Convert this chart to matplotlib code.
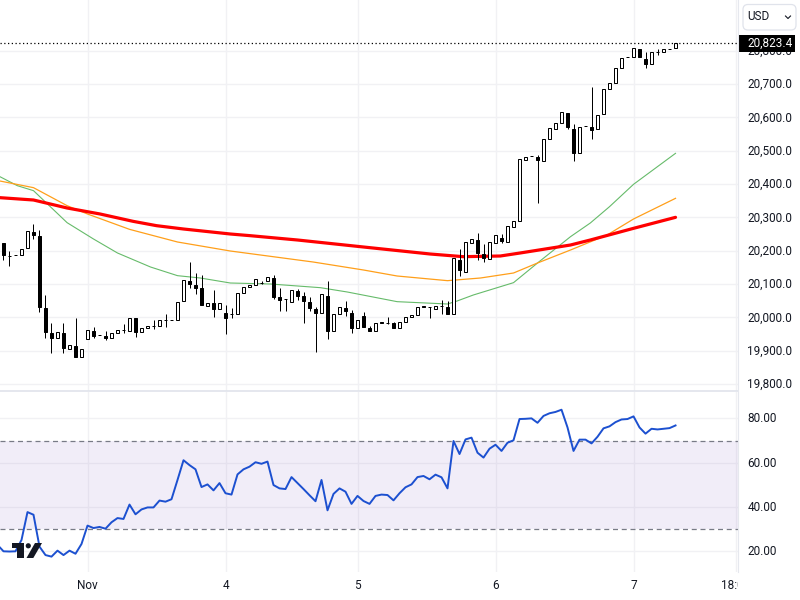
import matplotlib
matplotlib.use('Agg')
import matplotlib.pyplot as plt
from matplotlib.patches import Circle, FancyBboxPatch, Polygon, Rectangle
from matplotlib.transforms import Bbox, ScaledTranslation

plt.rcParams['font.family'] = ['Roboto', 'DejaVu Sans']

# hourly candles, bar index = position in the list
opens = [20222, 20185, 20186, 20186, 20207, 20256, 20244, 20027, 19952, 19937, 19952, 19904, 19914, 19880, 19934,
         19958, 19946, 19943, 19937, 19952, 19961, 19958, 19997, 19955, 19967, 19973, 19973, 19991, 19991, 19991,
         20048, 20109, 20097, 20087, 20035, 20042, 20024, 20013, 20010, 20009, 20072, 20092, 20098, 20102, 20110,
         20118, 20061, 20054, 20047, 20079, 20064, 20045, 20025, 20012, 20064, 19958, 20009, 20028, 20013, 19967,
         20003, 19968, 19958, 19985, 19982, 19982, 19967, 19985, 20000, 20008, 20033, 20030, 20026, 20033, 20030,
         20009, 20172, 20137, 20224, 20232, 20190, 20176, 20224, 20238, 20227, 20272, 20288, 20473, 20483, 20481,
         20470, 20534, 20566, 20582, 20612, 20564, 20492, 20574, 20571, 20564, 20609, 20684, 20702, 20747, 20780,
         20780, 20805, 20775, 20759, 20797, 20795, 20806, 20807]
highs = [20222, 20198, 20186, 20204, 20258, 20280, 20262, 20067, 19982, 19955, 19982, 19916, 19997, 19906, 19961,
         19970, 19946, 19958, 19952, 19963, 19979, 19997, 19997, 19967, 19973, 19991, 19991, 20009, 19991, 20045,
         20111, 20166, 20133, 20127, 20044, 20082, 20044, 20037, 20027, 20072, 20092, 20098, 20114, 20110, 20120,
         20127, 20088, 20056, 20081, 20085, 20077, 20061, 20032, 20069, 20109, 20009, 20030, 20049, 20022, 19991,
         20015, 19973, 19982, 19985, 20001, 19987, 19985, 20000, 20008, 20030, 20033, 20030, 20035, 20052, 20049,
         20177, 20204, 20225, 20234, 20252, 20220, 20225, 20246, 20250, 20273, 20288, 20474, 20480, 20483, 20487,
         20534, 20567, 20584, 20615, 20612, 20580, 20570, 20574, 20690, 20608, 20684, 20702, 20747, 20777, 20780,
         20807, 20805, 20797, 20797, 20804, 20804, 20806, 20823.4]
lows = [20172, 20155, 20186, 20186, 20207, 20234, 20017, 19939, 19894, 19937, 19894, 19904, 19882, 19880, 19934,
        19938, 19946, 19933, 19937, 19952, 19954, 19958, 19942, 19955, 19967, 19966, 19973, 19972, 19991, 19991,
        20048, 20089, 20071, 20038, 20035, 20002, 20024, 19951, 19999, 20009, 20072, 20092, 20098, 20100, 20110,
        20055, 20019, 20019, 20047, 20052, 19984, 20020, 19897, 20012, 19936, 19958, 20009, 20004, 19953, 19967,
        19970, 19960, 19958, 19982, 19979, 19969, 19967, 19985, 20000, 20008, 20030, 19999, 20026, 20010, 20011,
        20009, 20125, 20137, 20224, 20172, 20166, 20176, 20224, 20222, 20227, 20272, 20288, 20473, 20483, 20344,
        20470, 20534, 20566, 20582, 20565, 20470, 20492, 20574, 20534, 20564, 20609, 20684, 20702, 20747, 20780,
        20780, 20780, 20749, 20759, 20786, 20795, 20806, 20807]
closes = [20188, 20185, 20186, 20204, 20258, 20248, 20032, 19957, 19939, 19955, 19907, 19916, 19882, 19906, 19961,
          19944, 19946, 19939, 19952, 19963, 19961, 19997, 19957, 19967, 19973, 19973, 19991, 19991, 19991, 20045,
          20111, 20101, 20089, 20038, 20044, 20026, 20044, 19999, 20010, 20072, 20092, 20098, 20114, 20102, 20120,
          20060, 20052, 20054, 20081, 20064, 20049, 20028, 20013, 20069, 19960, 20009, 20030, 20019, 19968, 19991,
          19972, 19960, 19982, 19982, 19982, 19969, 19985, 20000, 20008, 20030, 20030, 20030, 20035, 20033, 20011,
          20177, 20142, 20225, 20234, 20194, 20178, 20225, 20246, 20230, 20273, 20288, 20474, 20480, 20483, 20472,
          20534, 20567, 20584, 20615, 20572, 20494, 20570, 20574, 20563, 20608, 20684, 20702, 20747, 20777, 20780,
          20807, 20780, 20760, 20797, 20797, 20804, 20806, 20823.4]

# moving averages, read at the bends only
red_bars = [-0.6, 5, 10.6, 16.1, 21.6, 25.5, 30, 37.8, 41.1, 49, 60, 71.1, 76.6, 82.8, 86.1, 94.5, 97.8, 105, 112]
red_vals = [20359, 20352, 20328, 20310, 20288, 20275, 20265, 20250, 20245, 20232, 20211, 20190, 20182, 20184, 20193,
            20217, 20232, 20267, 20300]
orange_bars = [-0.6, 5, 10.6, 14, 21, 29, 37.8, 51.6, 60, 65.6, 74, 79.5, 85, 89, 94.5, 100.6, 105, 112]
orange_vals = [20409, 20389, 20335, 20310, 20264, 20226, 20199, 20166, 20142, 20124, 20110, 20118, 20133, 20163, 20202,
               20247, 20295, 20357]
green_bars = [-0.6, 2.3, 5, 7.8, 10.6, 15, 19, 24.5, 29, 32.8, 37.8, 44.5, 52.8, 57.3, 65.6, 74, 75.6, 78.3, 85, 89,
              94.5, 97.8, 101, 105, 112]
green_vals = [20422, 20395, 20380, 20332, 20284, 20235, 20193, 20151, 20125, 20118, 20103, 20100, 20089, 20076, 20047,
              20040, 20049, 20067, 20104, 20163, 20242, 20283, 20332, 20399, 20492]

# rsi starts one bar before the first visible candle
rsi_bars = list(range(-1, 113))
rsi_vals = [22.9, 20.0, 19.9, 20.0, 25.1, 37.7, 36.5, 22.1, 18.3, 17.6, 20.3, 18.3, 20.3, 18.9, 23.3, 31.6, 30.5, 31.0,
            30.2, 33.1, 35.0, 34.6, 41.1, 36.7, 38.9, 39.8, 39.8, 42.9, 42.4, 43.5, 52.2, 61.1, 58.9, 57.0, 49.0, 50.2,
            47.5, 50.8, 46.2, 45.6, 54.7, 57.0, 58.2, 60.2, 59.5, 60.5, 49.9, 48.4, 48.1, 53.5, 50.8, 48.1, 45.3, 42.6,
            52.2, 38.5, 45.9, 48.4, 46.9, 41.4, 45.0, 42.7, 41.4, 45.0, 45.6, 45.4, 43.0, 46.2, 48.9, 50.2, 53.5, 54.0,
            52.5, 54.6, 53.4, 48.4, 69.8, 63.9, 70.5, 71.3, 64.5, 62.3, 66.3, 68.1, 65.3, 69.0, 70.1, 79.7, 79.8, 80.0,
            78.0, 81.1, 82.3, 82.9, 83.9, 75.9, 65.3, 70.4, 70.4, 68.7, 71.7, 75.5, 76.4, 78.3, 79.5, 79.7, 80.9, 75.9,
            73.1, 75.3, 75.0, 75.3, 75.6, 76.8]

price_ticks = [19800, 19900, 20000, 20100, 20200, 20300, 20400, 20500, 20600, 20700, 20800]
rsi_ticks = [20, 40, 60, 80]
time_ticks = [14, 37, 59, 82, 105, 122]
time_labels = ['Nov', '4', '5', '6', '7', '18:00']
last_price = 20823.4

GRID = '#f1f1f4'
TEXT = '#131722'
W, H = 800, 600
FS = 8.5


def pane(top, bottom):
    return [0, 1 - bottom / H, 737.5 / W, (bottom - top) / H]


fig = plt.figure(figsize=(8, 6), dpi=100, facecolor='white')
ax = fig.add_axes(pane(0, 391))
ax2 = fig.add_axes(pane(392, 572))
xlim = (-0.583, 122.33)

for a in (ax, ax2):
    a.set_xlim(xlim)
    a.set_xticks(time_ticks)
    a.grid(True, color=GRID, lw=1)
    a.set_axisbelow(True)
    a.yaxis.tick_right()
    a.tick_params(length=0, labelsize=FS, labelcolor=TEXT, pad=7)
    for s in a.spines.values():
        s.set_visible(False)

# price pane
ax.set_ylim(19779, 20952)
ax.set_yticks(price_ticks)
ax.set_yticklabels([f'{p:,.1f}' for p in price_ticks])
ax.tick_params(axis='x', labelbottom=False)

ax.plot(green_bars, green_vals, color='#66bb6a', lw=0.8, zorder=2)
ax.plot(orange_bars, orange_vals, color='#ff9f1a', lw=0.9, zorder=2.1)
ax.plot(red_bars, red_vals, color='#ff0000', lw=2.3, zorder=2.2, solid_capstyle='round')

bars = range(len(opens))
ax.vlines(bars, lows, highs, color='black', lw=0.72, zorder=3)
for i in bars:
    up = closes[i] > opens[i]
    ax.bar(i, abs(closes[i] - opens[i]), bottom=min(opens[i], closes[i]), width=0.66,
           facecolor='white' if up else 'black', edgecolor='black', lw=0.72, zorder=4)
ax.axhline(last_price, color='black', lw=0.9, ls=(0, (1, 2)), zorder=5)

# rsi pane
ax2.set_ylim(10.66, 91.9)
ax2.set_yticks(rsi_ticks)
ax2.set_yticklabels([f'{v:.2f}' for v in rsi_ticks])
ax2.set_xticklabels(time_labels)
ax2.tick_params(axis='x', pad=5)
ax2.axhspan(30, 70, color='#7e57c2', alpha=0.1, lw=0, zorder=1)
ax2.axhline(70, color='#787b86', lw=0.9, ls=(0, (4, 3)), zorder=2)
ax2.axhline(30, color='#787b86', lw=0.9, ls=(0, (4, 3)), zorder=2)
ax2.plot(rsi_bars, rsi_vals, color='#1c50d0', lw=1.4, zorder=3)

fig.canvas.draw()
clip = Bbox.from_extents(0, 0, 738, H)
for lab in ax2.get_xticklabels():
    lab.set_clip_box(clip)
    lab.set_clip_on(True)

# y labels sit a pixel above their gridlines
nudge = ScaledTranslation(0, 1 / 100, fig.dpi_scale_trans)
for a in (ax, ax2):
    for lab in a.get_yticklabels():
        lab.set_transform(lab.get_transform() + nudge)

# overlay in pixel coordinates for the chrome around the panes
over = fig.add_axes([0, 0, 1, 1], zorder=10)
over.set_xlim(0, W)
over.set_ylim(H, 0)
over.axis('off')
over.patch.set_alpha(0)
over.plot([0, 738], [391, 391], color='#e0e3eb', lw=1.2)
over.plot([737.5, 737.5], [0, 572], color='#e6e8ee', lw=0.8)

over.add_patch(FancyBboxPatch((743, 4.5), 53, 25.5, boxstyle='round,pad=0,rounding_size=5', fc='white',
                              ec='#e0e3eb', lw=0.9))
over.text(747, 16.5, 'USD', fontsize=FS, color=TEXT, va='center', ha='left')
over.plot([785.5, 788, 790.5], [16, 18.5, 16], color=TEXT, lw=0.8)

over.add_patch(Rectangle((739, 35), 56, 17, fc='black', ec='none'))
over.text(747, 43, f'{last_price:,.1f}', fontsize=FS, color='white', va='center', ha='left')

# tradingview mark
logo = '#131722'
over.add_patch(Polygon([(12, 543), (24, 543), (24, 558), (17.3, 558), (17.3, 548.3), (12, 548.3)], fc=logo, ec='none'))
over.add_patch(Circle((28.3, 545.8), 2.6, fc=logo, ec='none'))
over.add_patch(Polygon([(35, 543), (42, 543), (33.3, 558), (26.5, 558)], fc=logo, ec='none'))

fig.savefig('out.png', dpi=100, facecolor='white')
